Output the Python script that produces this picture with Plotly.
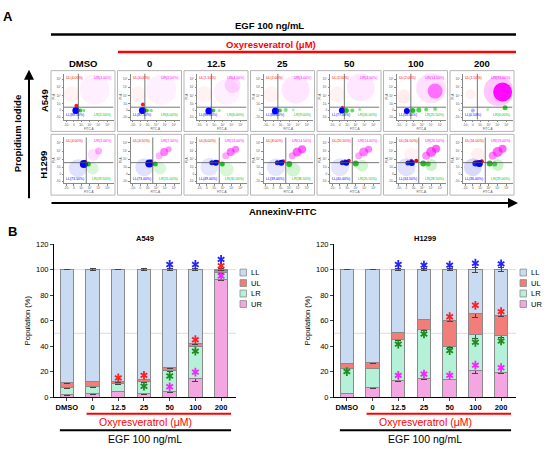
import plotly.graph_objects as go

W, H = 550, 452
FONT = "Liberation Sans"

doses = ["DMSO", "0", "12.5", "25", "50", "100", "200"]
stack_order = ["UR", "LR", "UL", "LL"]      # bottom -> top
legend_order = ["LL", "UL", "LR", "UR"]

# ---- panel B data (population %) ----
a549_UR = [2.0, 2.5, 4.5, 3.0, 4.5, 14.5, 92.0]
a549_LR = [5.5, 6.0, 6.0, 9.0, 16.0, 25.5, 6.0]
a549_UL = [4.0, 4.0, 1.5, 2.0, 2.5, 2.0, 1.5]
a549_LL = [88.5, 87.5, 88.0, 86.0, 77.0, 58.0, 0.5]

a549_UR_err = [0.5, 0.5, 0.3, 0.8, 0.8, 2.0, 0.5]
a549_LR_err = [0.5, 1.0, 0.3, 0.5, 0.5, 0.5, 0.8]
a549_UL_err = [0.5, 0.5, 0.3, 0.5, 0.5, 0.5, 0.5]
a549_LL_err = [0.3, 0.8, 0.3, 1.0, 0.8, 1.0, 0.5]

h1299_UR = [3.0, 7.5, 13.0, 14.5, 14.0, 20.5, 19.0]
h1299_LR = [19.5, 15.0, 32.0, 38.5, 25.5, 28.5, 29.0]
h1299_UL = [4.0, 4.5, 6.0, 8.0, 20.5, 16.5, 16.0]
h1299_LL = [73.5, 73.0, 49.0, 39.0, 40.0, 34.5, 36.0]

h1299_UR_err = [0.5, 0.5, 0.8, 0.5, 0.5, 2.0, 0.8]
h1299_LR_err = [0.5, 0.5, 0.5, 0.5, 0.5, 3.0, 1.5]
h1299_UL_err = [0.5, 0.5, 0.5, 0.5, 0.5, 3.0, 0.8]
h1299_LL_err = [0.3, 0.3, 0.5, 0.5, 0.5, 2.0, 1.5]

# significance asterisks (y position, None = not significant)
a549_star_LL = [None, None, None, None, 104, 104, 108]
a549_star_UL = [None, None, 15, 17, None, 45, 103]
a549_star_LR = [None, None, None, 8.5, 16.5, 36, None]
a549_star_UR = [None, None, None, None, 8, 19.5, 95]

h1299_star_LL = [None, None, 104, 103.5, 103.5, 105, 104.5]
h1299_star_UL = [None, None, None, None, 63, 72, 67]
h1299_star_LR = [20, None, 41.5, 49.5, 36.5, 43, 44]
h1299_star_UR = [None, None, 17, 18, 17, 25, 23]

# ---- panel A data: dot clouds as (panel, x, y, size px, alpha) in gate coords ----
a549_quad = (0.29, 0.27)
a549_LL_blobs = [(0, 0.24, 0.2, 7, 1), (1, 0.24, 0.2, 7, 1), (2, 0.24, 0.19, 7, 1),
                 (3, 0.24, 0.19, 7, 1), (4, 0.24, 0.2, 6, 1), (5, 0.21, 0.19, 6, 1),
                 (6, 0.2, 0.2, 4, 0.3)]
a549_UL_blobs = [(0, 0.25, 0.3, 4, 0.9), (0, 0.15, 0.55, 16, 0.05), (1, 0.25, 0.33, 4, 0.9),
                 (1, 0.15, 0.55, 16, 0.05), (2, 0.15, 0.55, 16, 0.05), (3, 0.15, 0.55, 16, 0.05),
                 (4, 0.25, 0.27, 3, 0.9), (4, 0.15, 0.55, 16, 0.05), (5, 0.15, 0.5, 14, 0.07),
                 (6, 0.15, 0.55, 10, 0.05)]
a549_LR_blobs = [(0, 0.33, 0.2, 4, 0.8), (0, 0.4, 0.2, 3, 0.5), (1, 0.33, 0.2, 4, 0.8),
                 (1, 0.42, 0.2, 3, 0.5), (2, 0.33, 0.2, 4, 0.8), (2, 0.45, 0.2, 3, 0.4),
                 (3, 0.33, 0.2, 4, 0.8), (3, 0.45, 0.21, 4, 0.5), (3, 0.6, 0.21, 3, 0.3),
                 (4, 0.33, 0.2, 5, 0.9), (4, 0.45, 0.2, 4, 0.6), (4, 0.6, 0.22, 3, 0.4),
                 (5, 0.33, 0.2, 5, 0.9), (5, 0.45, 0.21, 5, 0.7), (5, 0.6, 0.22, 4, 0.6),
                 (5, 0.78, 0.23, 4, 0.5), (6, 0.5, 0.22, 3, 0.3), (6, 0.85, 0.26, 5, 0.8)]
a549_UR_blobs = [(0, 0.62, 0.65, 30, 0.06), (1, 0.62, 0.65, 30, 0.06), (2, 0.6, 0.6, 26, 0.06),
                 (2, 0.72, 0.75, 16, 0.15), (3, 0.65, 0.65, 28, 0.1), (4, 0.62, 0.7, 28, 0.09),
                 (5, 0.7, 0.68, 30, 0.12), (5, 0.78, 0.62, 15, 0.5), (6, 0.72, 0.62, 30, 0.22),
                 (6, 0.8, 0.6, 19, 0.95)]

h1299_quad = (0.45, 0.45)
h1299_LL_blobs = [(0, 0.28, 0.33, 18, 0.12), (0, 0.4, 0.42, 8, 1), (1, 0.28, 0.35, 18, 0.12),
                  (1, 0.38, 0.43, 8, 1), (2, 0.25, 0.36, 18, 0.1), (2, 0.3, 0.45, 5, 0.9),
                  (2, 0.38, 0.45, 6, 1), (3, 0.25, 0.35, 18, 0.1), (3, 0.28, 0.45, 5, 0.9),
                  (3, 0.36, 0.45, 6, 1), (4, 0.2, 0.35, 18, 0.1), (4, 0.25, 0.45, 5, 0.9),
                  (4, 0.33, 0.45, 6, 1), (5, 0.2, 0.35, 18, 0.12), (5, 0.23, 0.44, 5, 0.9),
                  (5, 0.31, 0.44, 6, 1), (6, 0.2, 0.35, 18, 0.15), (6, 0.25, 0.43, 6, 0.9),
                  (6, 0.33, 0.43, 7, 1)]
h1299_UL_blobs = [(0, 0.43, 0.48, 3, 0.9), (1, 0.42, 0.49, 3, 0.9), (2, 0.42, 0.48, 3, 0.9),
                  (3, 0.4, 0.48, 4, 0.9), (4, 0.38, 0.49, 4, 1), (4, 0.3, 0.49, 3, 0.8),
                  (5, 0.4, 0.49, 4, 1), (5, 0.3, 0.49, 4, 0.8), (6, 0.38, 0.48, 4, 1),
                  (6, 0.28, 0.48, 3, 0.6), (6, 0.3, 0.62, 14, 0.06), (5, 0.3, 0.62, 14, 0.05)]
h1299_LR_blobs = [(0, 0.58, 0.32, 12, 0.15), (0, 0.49, 0.42, 5, 0.9), (1, 0.6, 0.32, 12, 0.15),
                  (1, 0.5, 0.42, 5, 0.9), (2, 0.6, 0.3, 14, 0.15), (2, 0.51, 0.42, 5, 0.9),
                  (3, 0.6, 0.3, 14, 0.18), (3, 0.52, 0.42, 6, 0.9), (4, 0.65, 0.38, 12, 0.18),
                  (4, 0.52, 0.43, 6, 0.9), (5, 0.7, 0.4, 12, 0.2), (5, 0.54, 0.43, 6, 0.9),
                  (5, 0.64, 0.42, 5, 0.7), (6, 0.7, 0.4, 12, 0.2), (6, 0.54, 0.43, 6, 0.9),
                  (6, 0.64, 0.42, 5, 0.7)]
h1299_UR_blobs = [(0, 0.6, 0.62, 12, 0.12), (0, 0.7, 0.7, 7, 0.3), (1, 0.58, 0.6, 7, 0.3),
                  (1, 0.68, 0.68, 8, 0.5), (1, 0.77, 0.74, 6, 0.4), (2, 0.58, 0.6, 7, 0.35),
                  (2, 0.68, 0.68, 8, 0.55), (2, 0.78, 0.74, 7, 0.5), (3, 0.58, 0.6, 7, 0.4),
                  (3, 0.68, 0.68, 9, 0.6), (3, 0.78, 0.74, 8, 0.6), (4, 0.58, 0.6, 7, 0.35),
                  (4, 0.68, 0.68, 9, 0.5), (4, 0.78, 0.74, 7, 0.5), (5, 0.6, 0.6, 8, 0.45),
                  (5, 0.7, 0.68, 10, 0.6), (5, 0.8, 0.75, 8, 0.6), (6, 0.6, 0.6, 8, 0.45),
                  (6, 0.7, 0.68, 10, 0.6), (6, 0.8, 0.75, 8, 0.6)]

bar_colors = {"LL": "#c8dbf2", "UL": "#f27d79", "LR": "#b4f1d8", "UR": "#f4a6e3"}
star_colors = {"LL": "#2424ff", "UL": "#ff2020", "LR": "#1e8c1e", "UR": "#ff20ff"}
dot_colors = {"LL": "#0000ff", "UL": "#ff0000", "LR": "#00c000", "UR": "#ff00ff"}


def px(x):
    return x / W


def py(y):
    return 1 - y / H


def label(x, y, text, size, color="black", angle=0, xanchor="center"):
    return dict(xref="paper", yref="paper", x=px(x), y=py(y), text=text, showarrow=False,
                xanchor=xanchor, yanchor="middle", textangle=angle, borderpad=0,
                font=dict(family=FONT, size=size, color=color))


fig = go.Figure()
shapes = []
annotations = []

# ================= panel A =================
col_cx = [83 + 66.5 * i for i in range(7)]
row_top = [68, 133]
box_w, box_h = 64, 62

rows = [
    ("A549", a549_quad, {"LL": a549_LL_blobs, "UL": a549_UL_blobs, "LR": a549_LR_blobs, "UR": a549_UR_blobs},
     {"LL": a549_LL, "UL": a549_UL, "LR": a549_LR, "UR": a549_UR}),
    ("H1299", h1299_quad, {"LL": h1299_LL_blobs, "UL": h1299_UL_blobs, "LR": h1299_LR_blobs, "UR": h1299_UR_blobs},
     {"LL": h1299_LL, "UL": h1299_UL, "LR": h1299_LR, "UR": h1299_UR}),
]

tiny = dict(family=FONT, size=3, color="#555")
tick_pos = [0.05, 0.2, 0.35, 0.52, 0.7, 0.88]
tick_txt = ["-10³", "0", "10³", "10⁴", "10⁵", "10⁶"]
for r, (cell, quad, blobs, pct) in enumerate(rows):
    for c in range(7):
        n = 3 + r * 7 + c
        left = col_cx[c] - box_w / 2
        right = left + box_w
        top = row_top[r]
        bottom = top + box_h
        shapes.append(dict(type="rect", xref="paper", yref="paper", x0=px(left), x1=px(right),
                           y0=py(bottom), y1=py(top), line=dict(color="#b5b5b5", width=1)))
        common = dict(range=[0, 1], showgrid=False, zeroline=False, showline=True, linecolor="#888",
                      linewidth=0.6, ticks="outside", ticklen=1.5, tickcolor="#888", tickvals=tick_pos,
                      ticktext=tick_txt, tickfont=tiny, fixedrange=True)
        fig.update_layout({
            f"xaxis{n}": dict(domain=[px(left + 13), px(right - 1.5)], anchor=f"y{n}",
                              title=dict(text="FITC-A", font=tiny, standoff=0), **common),
            f"yaxis{n}": dict(domain=[py(bottom - 12), py(top + 3)], anchor=f"x{n}",
                              title=dict(text="PI-A", font=tiny, standoff=0), **common),
        })
        pts = []
        for pop in ["UR", "UL", "LR", "LL"]:
            for (p, x, y, s, a) in blobs[pop]:
                if p == c:
                    pts.append((a, x, y, s, dot_colors[pop]))
        pts.sort(key=lambda t: t[0])
        fig.add_trace(go.Scatter(
            x=[t[1] for t in pts], y=[t[2] for t in pts], mode="markers",
            marker=dict(size=[t[3] for t in pts], color=[t[4] for t in pts],
                        opacity=[t[0] for t in pts], line=dict(width=0)),
            xaxis=f"x{n}", yaxis=f"y{n}", hoverinfo="skip", showlegend=False))
        qx, qy = quad
        shapes.append(dict(type="line", xref=f"x{n}", yref=f"y{n}", x0=qx, x1=qx, y0=0, y1=1,
                           line=dict(color="#555", width=0.8)))
        shapes.append(dict(type="line", xref=f"x{n}", yref=f"y{n}", x0=0, x1=1, y0=qy, y1=qy,
                           line=dict(color="#555", width=0.8)))
        for pop, ax_, ay_, xa, ya in [("UL", 0.03, 0.98, "left", "top"), ("UR", 0.97, 0.98, "right", "top"),
                                      ("LL", 0.03, 0.03, "left", "bottom"), ("LR", 0.97, 0.03, "right", "bottom")]:
            annotations.append(dict(xref=f"x{n}", yref=f"y{n}", x=ax_, y=ay_, xanchor=xa, yanchor=ya,
                                    text=f"{pop}({pct[pop][c]:.2f}%)", showarrow=False, borderpad=0,
                                    font=dict(family=FONT, size=3.5, color=dot_colors[pop])))
    annotations.append(label(44, row_top[r] + box_h / 2, f"<b>{cell}</b>", 9.5, angle=-90))

for c, d in enumerate(doses):
    annotations.append(label(col_cx[c], 61, f"<b>{d}</b>", 9.5))

annotations += [
    label(8, 13, "<b>A</b>", 13),
    label(269, 22, "<b>EGF 100 ng/mL</b>", 9.5),
    label(271, 41, "<b>Oxyresveratrol (μM)</b>", 9.5, color="#ff0000"),
    label(17, 132, "<b>Propidium Iodide</b>", 9.5, angle=-90),
    label(283, 212, "<b>AnnexinV-FITC</b>", 9.5),
    # axis arrows
    dict(xref="paper", yref="paper", x=px(29), y=py(67), ax=0, ay=130, showarrow=True, text="",
         arrowhead=2, arrowsize=1, arrowwidth=2, arrowcolor="black"),
    dict(xref="paper", yref="paper", x=px(518), y=py(203), ax=-468, ay=0, showarrow=True, text="",
         arrowhead=2, arrowsize=1, arrowwidth=2, arrowcolor="black"),
]
shapes += [
    dict(type="line", xref="paper", yref="paper", x0=px(51), x1=px(516), y0=py(31), y1=py(31),
         line=dict(color="black", width=2.5)),
    dict(type="line", xref="paper", yref="paper", x0=px(118), x1=px(516), y0=py(49), y1=py(49),
         line=dict(color="#ff0000", width=2.5)),
]

# ================= panel B =================
charts = [
    ("A549", "", 54,
     {"LL": a549_LL, "UL": a549_UL, "LR": a549_LR, "UR": a549_UR},
     {"LL": a549_LL_err, "UL": a549_UL_err, "LR": a549_LR_err, "UR": a549_UR_err},
     {"LL": a549_star_LL, "UL": a549_star_UL, "LR": a549_star_LR, "UR": a549_star_UR}),
    ("H1299", "2", 334,
     {"LL": h1299_LL, "UL": h1299_UL, "LR": h1299_LR, "UR": h1299_UR},
     {"LL": h1299_LL_err, "UL": h1299_UL_err, "LR": h1299_LR_err, "UR": h1299_UR_err},
     {"LL": h1299_star_LL, "UL": h1299_star_UL, "LR": h1299_star_LR, "UR": h1299_star_UR}),
]

y0_px, y120_px = 401, 245
xs = list(range(len(doses)))

for title, sfx, x_left, vals, errs, stars in charts:
    xr, yr = f"x{sfx}", f"y{sfx}"
    fig.update_layout({
        f"xaxis{sfx}": dict(domain=[px(x_left), px(x_left + 182)], range=[-0.5, 6.58], anchor=yr,
                            tickvals=xs, ticktext=[f"<b>{d}</b>" for d in doses],
                            tickfont=dict(family=FONT, size=7.5, color="black"),
                            showline=True, linecolor="black", linewidth=1, ticks="outside", ticklen=3,
                            showgrid=False, zeroline=False, fixedrange=True),
        f"yaxis{sfx}": dict(domain=[py(y0_px), py(y120_px)], range=[0, 120], anchor=xr,
                            tickvals=list(range(0, 121, 20)),
                            tickfont=dict(family=FONT, size=7.5, color="black"),
                            showline=True, linecolor="black", linewidth=1, ticks="outside", ticklen=3,
                            showgrid=False, zeroline=False, fixedrange=True,
                            title=dict(text="Population (%)", font=dict(family=FONT, size=7.5, color="black"),
                                       standoff=4)),
    })
    for ref in (50, 100):
        shapes.append(dict(type="line", xref=xr + " domain", yref=yr, x0=0, x1=1, y0=ref, y1=ref,
                           line=dict(color="#dddddd", width=1), layer="below"))
    for pop in stack_order:
        fig.add_trace(go.Bar(x=xs, y=vals[pop], width=0.52, name=pop, xaxis=xr, yaxis=yr,
                             marker=dict(color=bar_colors[pop], line=dict(color="#8a8a8a", width=1)),
                             error_y=dict(type="data", array=errs[pop], color="#444", thickness=1, width=3),
                             showlegend=False))
    # six-armed asterisks built from two three-armed marker symbols
    for pop in stack_order:
        sx = [x for x, s in zip(xs, stars[pop]) if s is not None]
        sy = [s for s in stars[pop] if s is not None]
        for sym in ("y-up-open", "y-down-open"):
            fig.add_trace(go.Scatter(x=sx, y=sy, mode="markers",
                                     marker=dict(symbol=sym, size=5.5, color=star_colors[pop],
                                                 line=dict(color=star_colors[pop], width=1.8)),
                                     xaxis=xr, yaxis=yr, hoverinfo="skip", showlegend=False, cliponaxis=False))
    mid = x_left + 91
    annotations.append(label(mid, 239, f"<b>{title}</b>", 7.5))
    bar_w_px = 182 / 7.08
    first_px = x_left + 0.5 * bar_w_px
    shapes.append(dict(type="line", xref="paper", yref="paper", x0=px(first_px + bar_w_px - 6),
                       x1=px(first_px + 6 * bar_w_px + 10), y0=py(418), y1=py(418),
                       line=dict(color="#ff0000", width=2)))
    shapes.append(dict(type="line", xref="paper", yref="paper", x0=px(first_px - 7),
                       x1=px(first_px + 6 * bar_w_px + 10), y0=py(435), y1=py(435),
                       line=dict(color="black", width=2)))
    annotations.append(label(mid, 427, "Oxyresveratrol (μM)", 10.5, color="#ff0000"))
    annotations.append(label(mid, 444, "EGF 100 ng/mL", 10.5))
    # legend
    lx = x_left + 186
    for i, pop in enumerate(legend_order):
        cy = 274 + i * 10.7
        shapes.append(dict(type="rect", xref="paper", yref="paper", x0=px(lx), x1=px(lx + 6.5),
                           y0=py(cy + 3.5), y1=py(cy - 3.5), fillcolor=bar_colors[pop],
                           line=dict(color="#8a8a8a", width=0.8)))
        annotations.append(label(lx + 10, cy, pop, 7.5, xanchor="left"))

annotations.append(label(12, 232, "<b>B</b>", 13))

fig.update_layout(
    width=W, height=H, margin=dict(l=0, r=0, t=0, b=0),
    paper_bgcolor="white", plot_bgcolor="white",
    barmode="stack", bargap=0.4, showlegend=False,
    shapes=shapes, annotations=annotations,
    font=dict(family=FONT),
)

fig.write_html("out.html", config={"displayModeBar": False},
               post_script="document.body.style.margin='0';")
